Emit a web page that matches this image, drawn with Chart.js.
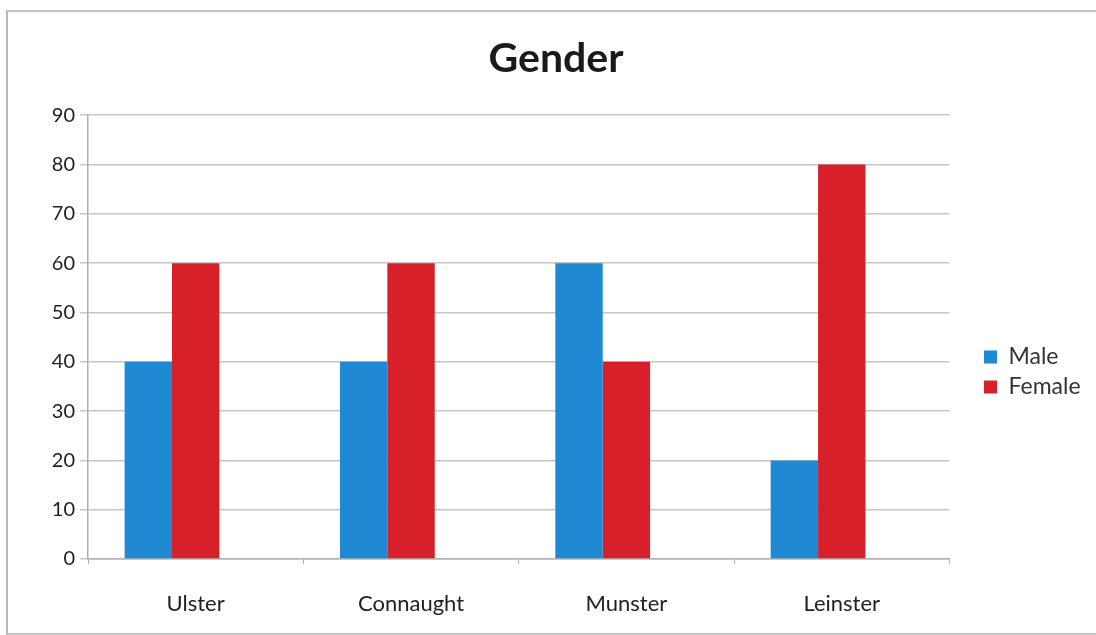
<!DOCTYPE html>
<html>
<head>
<meta charset="utf-8">
<script src="https://cdn.jsdelivr.net/npm/chart.js@4.4.0/dist/chart.umd.min.js"></script>
<style>
  html, body { margin: 0; padding: 0; background: #fff; }
  .frame {
    position: absolute; left: 6px; top: 10px; width: 1096px; height: 621px;
    border-left: 2px solid #b8b8b8; border-top: 2px solid #c4c4c4; border-bottom: 2px solid #c4c4c4;
  }
  .chart-container { position: absolute; left: 0; top: 0; width: 1096px; height: 635px; }
</style>
</head>
<body>
<div class="frame"></div>
<div class="chart-container"><canvas id="genderChart" width="1096" height="635"></canvas></div>
<script>
// chart data
const provinces = ['Ulster', 'Connaught', 'Munster', 'Leinster'];
const maleValues = [40, 40, 60, 20];
const femaleValues = [60, 60, 40, 80];
// the original has an empty third series, which leaves a gap right of each pair
const emptyValues = [null, null, null, null];
const yTicks = [0, 10, 20, 30, 40, 50, 60, 70, 80, 90];

const fontFamily = 'Lato, "Open Sans", sans-serif';
const gridColor = '#c6c6c6';

// move the legend and title so they sit where the original ones are
const boxShift = {
  id: 'boxShift',
  afterLayout(chart) {
    const legend = chart.legend;
    const dx = 987 - (legend.left + 10);
    const dy = 372 - (legend.top + legend.height / 2);
    legend.left += dx;
    legend.right += dx;
    legend.top += dy;
    legend.bottom += dy;

    const title = chart.titleBlock;
    const tx = 556 - (title.left + title.right) / 2;
    title.left += tx;
    title.right += tx;
  }
};

const chartData = {
  labels: provinces,
  datasets: [{
    label: 'Male',
    data: maleValues,
    backgroundColor: '#1f8ad3',
    barPercentage: 1,
    categoryPercentage: 0.66
  }, {
    label: 'Female',
    data: femaleValues,
    backgroundColor: '#d8202b',
    barPercentage: 1,
    categoryPercentage: 0.66
  }, {
    label: '',
    data: emptyValues,
    backgroundColor: 'rgba(0,0,0,0)',
    barPercentage: 1,
    categoryPercentage: 0.66
  }]
};

const chartConfigs = {
  type: 'bar',
  data: chartData,
  plugins: [boxShift],
  options: {
    responsive: false,
    animation: false,
    layout: { padding: { left: 0, right: 33, top: 0, bottom: 0 } },
    plugins: {
      title: {
        display: true,
        text: 'Gender',
        color: '#1a1a1a',
        font: { family: fontFamily, size: 41, weight: 'bold' },
        padding: { top: 34, bottom: 32 }
      },
      legend: {
        position: 'right',
        labels: {
          color: '#333',
          font: { family: fontFamily, size: 23 },
          boxWidth: 13,
          boxHeight: 13,
          padding: 7,
          filter: item => item.text !== ''
        }
      },
      tooltip: { enabled: false }
    },
    scales: {
      y: {
        min: 0,
        max: 90,
        afterBuildTicks: function(scale) {
          scale.ticks = yTicks.map(v => ({ value: v }));
        },
        afterFit: function(scale) { scale.width = 88; },
        grid: { color: gridColor, tickLength: 8, lineWidth: 1.5 },
        border: { color: '#b0b0b0', width: 1.5 },
        ticks: { color: '#222', font: { family: fontFamily, size: 20 }, padding: 5 }
      },
      x: {
        afterFit: function(scale) { scale.height = 76; },
        grid: { display: true, drawOnChartArea: false, color: '#b0b0b0', tickLength: 5 },
        border: { color: '#b0b0b0', width: 1.5 },
        ticks: { color: '#222', font: { family: fontFamily, size: 22 }, padding: 27 }
      }
    }
  }
};

new Chart(document.getElementById('genderChart'), chartConfigs);
</script>
</body>
</html>
